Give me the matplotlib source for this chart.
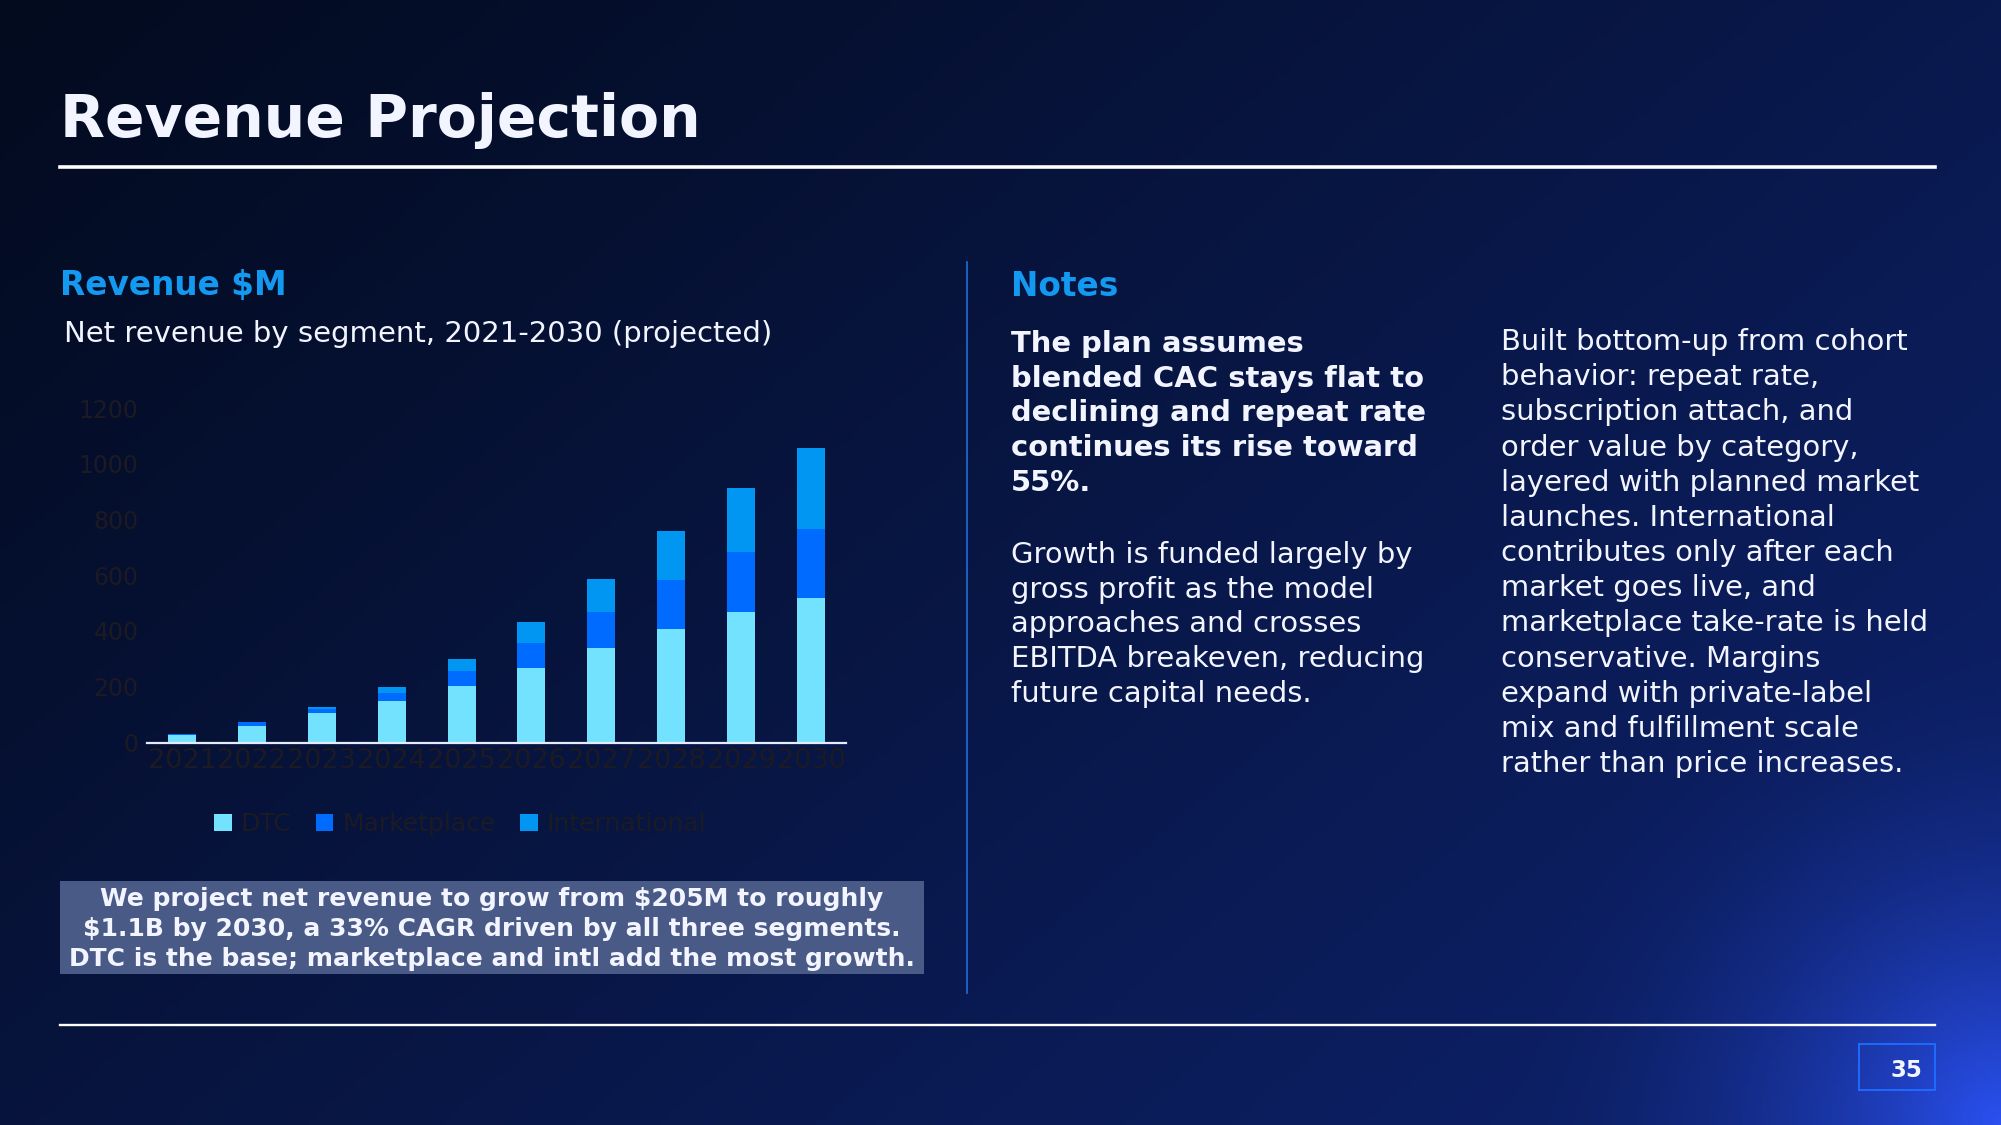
import numpy as np
import matplotlib.pyplot as plt
from matplotlib.colors import to_rgb
from matplotlib.patches import Rectangle
from matplotlib.lines import Line2D

# dados do grafico (receita liquida por segmento, $M)
anos = ['2021', '2022', '2023', '2024', '2025', '2026', '2027', '2028', '2029', '2030']
dtc = [27, 60, 106, 150, 203, 268, 340, 408, 469, 518]
marketplace = [4, 13, 15, 28, 53, 88, 129, 174, 214, 247]
internacional = [0, 0, 7, 20, 43, 76, 117, 176, 229, 291]
segmentos = ['DTC', 'Marketplace', 'International']
y_ticks = [0, 200, 400, 600, 800, 1000, 1200]

titulo = 'Revenue Projection'
cab_grafico = 'Revenue $M'
sub_grafico = 'Net revenue by segment, 2021-2030 (projected)'
cab_notas = 'Notes'
nota_negrito = ('The plan assumes\nblended CAC stays flat to\ndeclining and repeat rate\n'
                'continues its rise toward\n55%.')
nota_normal = ('Growth is funded largely by\ngross profit as the model\napproaches and crosses\n'
               'EBITDA breakeven, reducing\nfuture capital needs.')
nota_direita = ('Built bottom-up from cohort\nbehavior: repeat rate,\nsubscription attach, and\n'
                'order value by category,\nlayered with planned market\nlaunches. International\n'
                'contributes only after each\nmarket goes live, and\nmarketplace take-rate is held\n'
                'conservative. Margins\nexpand with private-label\nmix and fulfillment scale\n'
                'rather than price increases.')
legenda_caixa = ('We project net revenue to grow from $205M to roughly\n'
                 '$1.1B by 2030, a 33% CAGR driven by all three segments.\n'
                 'DTC is the base; marketplace and intl add the most growth.')
pagina = '35'

cores = ['#72e2ff', '#006cff', '#0096f2']
cor_escura = '#1c1a22'
branco = '#f2f5ff'
azul_cab = '#1499f0'

W, H = 2001, 1125
fig = plt.figure(figsize=(W / 100, H / 100), dpi=100)


def fx(x):
    return x / W


def fy(y):
    return 1 - y / H


# fundo em degrade
bg = fig.add_axes([0, 0, 1, 1], zorder=-10)
xx, yy = np.meshgrid(np.linspace(0, 1, 400), np.linspace(0, 1, 225))
s = np.clip(0.6 * xx + 0.4 * yy, 0, 1) ** 1.1
c0, c1, c2 = np.array(to_rgb('#030b1f')), np.array(to_rgb('#0e2370')), np.array(to_rgb('#2a50f0'))
img = c0[None, None, :] * (1 - s[..., None]) + c1[None, None, :] * s[..., None]
d = np.sqrt(((1 - xx) * 1.78) ** 2 + (1 - yy) ** 2)
g = np.clip(1 - d / 0.45, 0, 1) ** 2.0
img = img * (1 - g[..., None]) + c2[None, None, :] * g[..., None]
bg.imshow(img, extent=[0, 1, 0, 1], aspect='auto', origin='upper')
bg.set_xlim(0, 1)
bg.set_ylim(0, 1)
bg.axis('off')

# cabecalho
fig.text(fx(60), fy(137), titulo, fontsize=42, fontweight='bold', color=branco, va='baseline')
fig.add_artist(Line2D([fx(60), fx(1935)], [fy(167), fy(167)], color='white', lw=2.6))
fig.add_artist(Line2D([fx(60), fx(1935)], [fy(1024.5), fy(1024.5)], color='white', lw=1.7))

# painel esquerdo
fig.text(fx(60), fy(295), cab_grafico, fontsize=23.6, fontweight='bold', color=azul_cab, va='baseline')
fig.text(fx(64), fy(342), sub_grafico, fontsize=21.0, color=branco, va='baseline')

ax = fig.add_axes([fx(147), fy(742.5), fx(846) - fx(147), (742.5 - 408) / H])
ax.patch.set_alpha(0)
x = np.arange(len(anos))
base2 = np.array(dtc)
base3 = base2 + np.array(marketplace)
b1 = ax.bar(x, dtc, 0.4, color=cores[0], label=segmentos[0])
b2 = ax.bar(x, marketplace, 0.4, bottom=base2, color=cores[1], label=segmentos[1])
b3 = ax.bar(x, internacional, 0.4, bottom=base3, color=cores[2], label=segmentos[2])
ax.set_xlim(-0.5, len(anos) - 0.5)
ax.set_ylim(0, 1200)
ax.set_yticks(y_ticks)
ax.set_xticks(x)
ax.set_xticklabels(anos)
for lado in ['top', 'right', 'left']:
    ax.spines[lado].set_visible(False)
ax.spines['bottom'].set_color('#e6ecff')
ax.spines['bottom'].set_linewidth(1.6)
ax.tick_params(axis='both', length=0, colors=cor_escura)
ax.tick_params(axis='y', labelsize=17, pad=6)
ax.tick_params(axis='x', labelsize=19.5, pad=4)
leg = ax.legend(handles=[b1, b2, b3], loc='center', bbox_to_anchor=(0.448, -0.244), ncol=3,
                frameon=False, fontsize=18, handlelength=0.7, handleheight=0.7,
                handletextpad=0.35, columnspacing=1.0)
for t in leg.get_texts():
    t.set_color(cor_escura)

# caixa de destaque
fig.add_artist(Rectangle((fx(60), fy(974)), fx(924) - fx(60), (974 - 881) / H,
                         transform=fig.transFigure, facecolor='#4a5a86', edgecolor='none'))
fig.text(fx(492), fy(929), legenda_caixa, fontsize=18, fontweight='bold', color=branco,
         ha='center', va='center', multialignment='center', linespacing=1.34)

# divisor
fig.add_artist(Line2D([fx(967), fx(967)], [fy(262), fy(993)], color='#1d6fd8', lw=1.2))

# notas (va baseline = base da ultima linha)
fig.text(fx(1011), fy(296), cab_notas, fontsize=23.6, fontweight='bold', color=azul_cab, va='baseline')
fig.text(fx(1011), fy(491), nota_negrito, fontsize=20.9, fontweight='bold', color=branco,
         va='baseline', linespacing=1.31)
fig.text(fx(1011), fy(702), nota_normal, fontsize=20.9, color=branco, va='baseline', linespacing=1.31)
fig.text(fx(1501), fy(772), nota_direita, fontsize=20.9, color=branco, va='baseline', linespacing=1.325)

# numero da pagina
fig.add_artist(Rectangle((fx(1859), fy(1090)), fx(1935) - fx(1859), (1090 - 1044) / H,
                         transform=fig.transFigure, facecolor='none', edgecolor='#1f6bff', lw=1.4))
fig.text(fx(1922), fy(1077), pagina, fontsize=16.5, fontweight='bold', color=branco,
         ha='right', va='baseline')

fig.savefig('out.png', dpi=100)
